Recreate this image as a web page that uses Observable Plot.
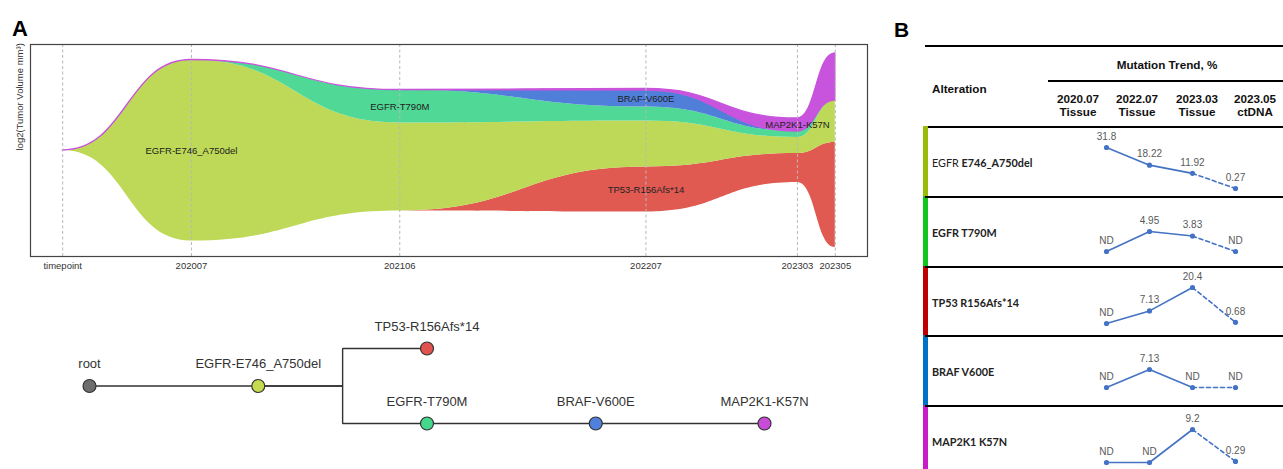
<!DOCTYPE html>
<html><head><meta charset="utf-8">
<script src="https://cdn.jsdelivr.net/npm/d3@7"></script>
<script src="https://cdn.jsdelivr.net/npm/@observablehq/plot@0.6"></script>
<style>
html,body{margin:0;padding:0;background:#fff;}
#root{position:relative;width:1283px;height:469px;overflow:hidden;font-family:"Liberation Sans",Arial,sans-serif;background:#fff;}
#root svg{position:absolute;}
.panel{position:absolute;font-weight:bold;line-height:1;color:#000;}
.hrule{position:absolute;background:#000;}
.hd{position:absolute;font-weight:bold;font-size:11.7px;line-height:13px;color:#111;text-align:center;white-space:nowrap;}
.rowlab{position:absolute;font-family:Lato,"Liberation Sans",sans-serif;font-size:10.8px;line-height:14px;color:#222;font-weight:bold;white-space:nowrap;}
.bar{position:absolute;}
</style></head><body><div id="root"></div><script>
// ---------- Panel A: fish plot data ----------
const timeLabels = ["timepoint", "202007", "202106", "202207", "202303", "202305"];
const timeMonths = [-6.8, 0, 11, 24, 32, 34]; // months since 2020-07
// clones in stacking order, bottom to top
const cloneNames = ["TP53-R156Afs*14", "EGFR-E746_A750del", "EGFR-T790M", "BRAF-V600E", "MAP2K1-K57N"];
const cloneColors = ["#e05a52", "#bdd957", "#50d896", "#4f7fd9", "#c853dc"];
const tp53Size   = [0, 0,    0,    2.25, 1.45, 5.25];
const e746Size   = [0, 9.05, 4.4,  2.3,  0.8,  2.1];
const t790mSize  = [0, 0,    1.65, 0.7,  0.3,  0];
const brafSize   = [0, 0,    0,    0.82, 0,    0];
const map2k1Size = [0, 0,    0,    0.08, 0.65, 2.35];
const cloneSizes = [tp53Size, e746Size, t790mSize, brafSize, map2k1Size];
const cloneLabelAt = [3, 1, 2, 3, 4]; // timepoint index where each clone is labelled

// ---------- Panel A: clone tree ----------
const treeNames  = ["root", "EGFR-E746_A750del", "TP53-R156Afs*14", "EGFR-T790M", "BRAF-V600E", "MAP2K1-K57N"];
const treeParent = [-1, 0, 1, 1, 3, 4];
const treeDepth  = [0, 1, 2, 2, 3, 4];
const treeLane   = [0, 0, 1, -1, -1, -1];
const treeColors = ["#6e6e6e", "#c6da50", "#e0534f", "#45d88d", "#4f80db", "#c84cd8"];

// ---------- Panel B: mutation trend table ----------
const colDates   = ["2020.07", "2022.07", "2023.03", "2023.05"];
const colSamples = ["Tissue", "Tissue", "Tissue", "ctDNA"];
const altGenes    = ["EGFR", "EGFR", "TP53", "BRAF", "MAP2K1"];
const altVariants = ["E746_A750del", "T790M", "R156Afs*14", "V600E", "K57N"];
const altColors   = ["#9bbb0a", "#14c41e", "#c00000", "#0072c6", "#c81cc8"];
const trendE746   = [31.8, 18.22, 11.92, 0.27];
const trendT790M  = [null, 4.95, 3.83, null];
const trendTP53   = [null, 7.13, 20.4, 0.68];
const trendBRAF   = [null, 7.13, null, null];
const trendMAP2K1 = [null, null, 9.2, 0.29];
const trends = [trendE746, trendT790M, trendTP53, trendBRAF, trendMAP2K1];

// ---------- layout ----------
const root = document.getElementById("root");
const FONT = "Liberation Sans, Arial, sans-serif";
function place(node, left, top) { node.style.left = left + "px"; node.style.top = top + "px"; root.appendChild(node); return node; }
function div(cls, html, left, top, extra) {
  const d = document.createElement("div"); d.className = cls; d.innerHTML = html;
  d.style.left = left + "px"; d.style.top = top + "px";
  if (extra) Object.assign(d.style, extra);
  root.appendChild(d); return d;
}

// Fish plot: centered stack computed from the clone sizes
const fishRows = [];
cloneNames.forEach((c, k) => timeMonths.forEach((m, i) => {
  const total = d3.sum(cloneSizes, s => s[i]);
  let base = -total / 2;
  for (let j = 0; j < k; j++) base += cloneSizes[j][i];
  fishRows.push({clone: c, color: cloneColors[k], month: m, y1: base, y2: base + cloneSizes[k][i]});
}));
const fishLabels = cloneNames.map((c, k) => {
  const r = fishRows.find(d => d.clone === c && d.month === timeMonths[cloneLabelAt[k]]);
  return {text: c, month: r.month, y: (r.y1 + r.y2) / 2};
});
const fish = Plot.plot({
  width: 880, height: 280, marginLeft: 30, marginRight: 13, marginTop: 44, marginBottom: 24,
  style: {fontFamily: FONT, fontSize: "9.5px", color: "#333", background: "transparent", overflow: "visible"},
  x: {domain: [-8.5, 35.7]},
  y: {domain: [-5.3, 5.3], axis: null},
  marks: [
    Plot.areaY(fishRows, {
      x: "month", y1: "y1", y2: "y2", z: "clone", fill: "color",
      stroke: d => d.clone === "MAP2K1-K57N" ? d.color : "none", strokeWidth: 1.3,
      curve: "bump-x"
    }),
    Plot.ruleX(timeMonths, {stroke: "#b8b8b8", strokeDasharray: "3,2.5", strokeWidth: 1}),
    Plot.text(fishLabels, {x: "month", y: "y", text: "text", fontSize: 9.5, fill: "#222"}),
    Plot.text(["log2(Tumor Volume mm\u00b3)"], {frameAnchor: "left", rotate: -90, dx: -11, text: d => d, fontSize: 9.5, fill: "#333"}),
    Plot.axisX({ticks: timeMonths, tickFormat: d => timeLabels[timeMonths.indexOf(d)], tickSize: 0, tickPadding: 6, label: null, fontSize: 9.5}),
    Plot.frame({stroke: "#444", strokeWidth: 1.2})
  ]
});
place(fish, 0, 0);

// Tree
const treeNodes = treeNames.map((n, i) => ({name: n, depth: treeDepth[i], lane: treeLane[i], color: treeColors[i]}));
const treeLinks = treeNodes.slice(1).map((n, i) => {
  const p = treeNodes[treeParent[i + 1]];
  return {x1: p.depth, y1: p.lane, x2: n.depth, y2: n.lane};
});
const tree = Plot.plot({
  width: 880, height: 179, margin: 0,
  style: {fontFamily: FONT, background: "transparent", overflow: "visible"},
  x: {domain: [0, 4], range: [89, 764], axis: null},
  y: {domain: [-1, 1], range: [133, 58], axis: null},
  marks: [
    Plot.link(treeLinks, {x1: "x1", y1: "y1", x2: "x2", y2: "y2", curve: "step", stroke: "#333", strokeWidth: 1.4}),
    Plot.dot(treeNodes, {x: "depth", y: "lane", r: 6.5, fill: "color", stroke: "#333", strokeWidth: 1.2}),
    Plot.text(treeNodes, {x: "depth", y: "lane", text: "name", dy: -22, fontSize: 13, fill: "#333"})
  ]
});
place(tree, 0, 290);

// Panel B header
div("hrule", "", 925, 45, {width: "358px", height: "2px"});
div("hd", "Mutation Trend, %", 1067, 58, {width: "200px"});
div("hrule", "", 1048, 80, {width: "235px", height: "1.5px"});
div("hd", "Alteration", 932, 82, {textAlign: "left"});
const colHeaderX = [1078, 1137, 1197, 1255];
colDates.forEach((c, i) => div("hd", c + "<br>" + colSamples[i], colHeaderX[i] - 30, 92, {width: "60px"}));
div("hrule", "", 925, 126, {width: "358px", height: "2px"});

// Panel B rows
const rowTops = [127, 197, 267, 336, 406];
const rowSpark = [[61, 20], [54, 34], [56, 20], [51, 33], [56, 23]];
trends.forEach((vals, r) => {
  const top = rowTops[r];
  const next = r + 1 < rowTops.length ? rowTops[r + 1] : 476;
  div("bar", "", 923, top - 1, {width: "5px", height: (next - top) + "px", background: altColors[r]});
  if (r > 0) div("hrule", "", 925, top - 1, {width: "358px", height: "2px"});
  const gene = r === 0 ? `<span style="font-weight:normal">${altGenes[r]}</span>` : altGenes[r];
  div("rowlab", gene + " " + altVariants[r], 932, top + 28.5);
  const pts = vals.map((v, i) => ({col: colDates[i], v: v ?? 0, label: v == null ? "ND" : String(v)}));
  const p = Plot.plot({
    width: 363, height: 70, margin: 0,
    style: {fontFamily: FONT, background: "transparent", overflow: "visible"},
    x: {type: "point", domain: colDates, range: [164, 337], axis: null},
    y: {domain: d3.extent(pts, d => d.v), range: rowSpark[r], axis: null},
    marks: [
      Plot.line(pts.slice(0, 3), {x: "col", y: "v", stroke: "#4472c4", strokeWidth: 1.6}),
      Plot.line(pts.slice(2), {x: "col", y: "v", stroke: "#4472c4", strokeWidth: 1.6, strokeDasharray: "4,3"}),
      Plot.dot(pts, {x: "col", y: "v", r: 2.6, fill: "#4472c4"}),
      Plot.text(pts, {x: "col", y: "v", text: "label", dy: -11, fontSize: 10, fill: "#595959"})
    ]
  });
  place(p, 920, top);
});

// Panel letters
div("panel", "A", 12, 18, {fontSize: "22px"});
div("panel", "B", 894, 19, {fontSize: "21px"});
</script></body></html>
